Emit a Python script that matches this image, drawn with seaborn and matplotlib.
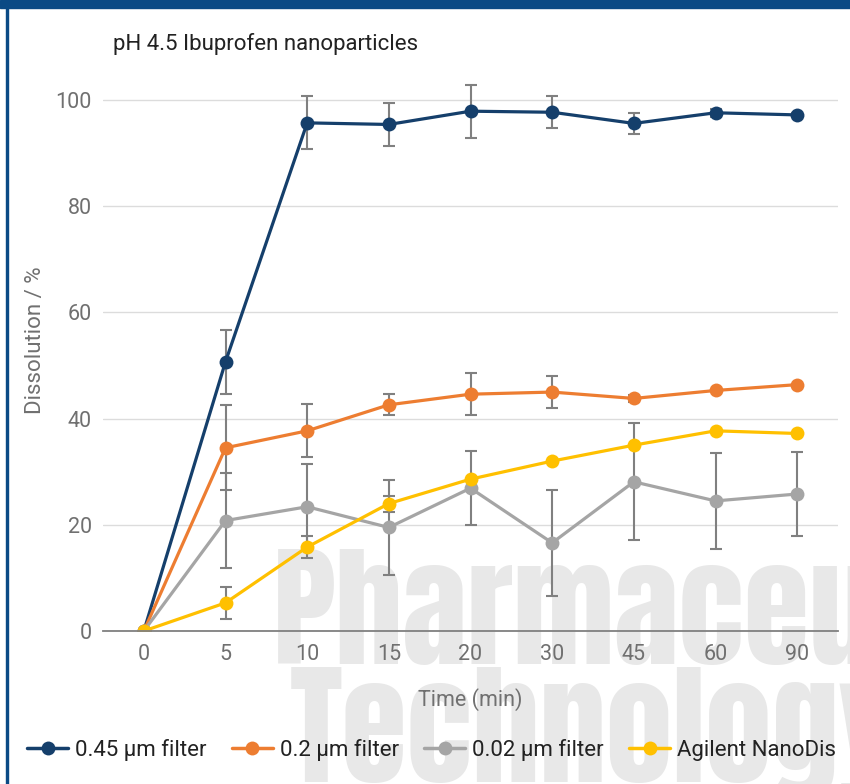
import numpy as np
import pandas as pd
import matplotlib
matplotlib.use("Agg")
import matplotlib.pyplot as plt
import seaborn as sns
from matplotlib.lines import Line2D
from matplotlib.patches import Rectangle

# data
time_labels = ["0", "5", "10", "15", "20", "30", "45", "60", "90"]
series_names = ["0.45 µm filter", "0.2 µm filter", "0.02 µm filter", "Agilent NanoDis"]

filter_045 = [0, 50.7, 95.7, 95.4, 97.9, 97.7, 95.6, 97.6, 97.2]
filter_045_err = [0, 6.0, 5.0, 4.0, 5.0, 3.0, 2.0, 0.8, 0.3]

filter_02 = [0, 34.5, 37.7, 42.6, 44.6, 45.0, 43.8, 45.3, 46.4]
filter_02_err = [0, 8.0, 5.0, 2.0, 4.0, 3.0, 0.6, 0, 0]

filter_002 = [0, 20.8, 23.4, 19.5, 26.9, 16.6, 28.1, 24.5, 25.8]
filter_002_err = [0, 9.0, 8.0, 9.0, 7.0, 10.0, 11.0, 9.0, 8.0]

nanodis = [0, 5.3, 15.8, 24.0, 28.6, 32.0, 35.0, 37.7, 37.2]
nanodis_err = [0, 3.0, 2.0, 1.5, 0, 0, 0, 0, 0]

colors = ["#153f6b", "#ed7d31", "#a5a5a5", "#ffc000"]

values = [filter_045, filter_02, filter_002, nanodis]
errors = [filter_045_err, filter_02_err, filter_002_err, nanodis_err]

rows = []
for name, vals in zip(series_names, values):
    for i, v in enumerate(vals):
        rows.append({"pos": i, "Series": name, "Dissolution": v})
df = pd.DataFrame(rows)

sns.set_style("white")
plt.rcParams["font.family"] = ["Roboto", "DejaVu Sans"]

fig = plt.figure(figsize=(8.5, 7.84), dpi=100)
W, H = 850, 784
ax = fig.add_axes([103 / W, 1 - 631 / H, (838 - 103) / W, (631 - 78.8) / H])
ax.patch.set_alpha(0)

# watermark
wm_font = ["Anton", "Oswald", "Barlow Condensed", "DejaVu Sans"]
fig.text(273 / W, 1 - 664 / H, "Pharmaceutical", fontsize=96,
         family=wm_font, color="#e8e8e8", zorder=-5, ha="left", va="baseline")
fig.text(290 / W, 1 - 782 / H, "Technology", fontsize=96,
         family=wm_font, color="#e8e8e8", zorder=-5, ha="left", va="baseline")

# frame
fig.patches.append(Rectangle((0, 1 - 7.5 / H), 1, 7.5 / H, transform=fig.transFigure,
                             color="#0b4a85", zorder=10))
fig.patches.append(Rectangle((6 / W, 0), 2.2 / W, 1, transform=fig.transFigure,
                             color="#0b4a85", zorder=10))

for name, vals, err, c in zip(series_names, values, errors, colors):
    ax.errorbar(range(len(vals)), vals, yerr=err, fmt="none", ecolor="#808080",
                elinewidth=1.5, capsize=4.5, capthick=1.5, zorder=2)

sns.lineplot(data=df, x="pos", y="Dissolution", hue="Series", palette=colors,
             marker="o", markersize=10, markeredgewidth=0, linewidth=2.3,
             ax=ax, legend=False, zorder=3)

ax.set_xlim(-0.5, 8.5)
ax.set_ylim(0, 104)
ax.set_xticks(range(len(time_labels)))
ax.set_xticklabels(time_labels)
ax.set_yticks([0, 20, 40, 60, 80, 100])
ax.tick_params(axis="both", length=0, labelsize=15.5, labelcolor="#707070")
ax.tick_params(axis="y", pad=8)
ax.tick_params(axis="x", pad=9)
ax.grid(axis="y", color="#dcdcdc", linewidth=1)
ax.grid(axis="x", visible=False)
for s in ["top", "right", "left"]:
    ax.spines[s].set_visible(False)
ax.spines["bottom"].set_color("#808080")
ax.spines["bottom"].set_linewidth(1.3)
ax.spines["bottom"].set_zorder(4)

ax.set_xlabel("")
ax.set_ylabel("")
fig.text(470 / W, 1 - 700 / H, "Time (min)", fontsize=15.5, color="#707070",
         ha="center", va="center")
fig.text(36 / W, 1 - 340 / H, "Dissolution / %", fontsize=16, color="#707070",
         rotation=90, ha="center", va="center")
fig.text(113 / W, 1 - 44 / H, "pH 4.5 Ibuprofen nanoparticles", fontsize=16,
         color="#222222", ha="left", va="center")

handles = [Line2D([0], [0], color=c, linewidth=2.5, marker="o", markersize=10,
                  markeredgewidth=0) for c in colors]
fig.legend(handles, series_names, loc="center left", bbox_to_anchor=(27 / W, 1 - 750 / H),
           ncol=4, frameon=False, fontsize=16, handlelength=1.85, handletextpad=0.3,
           columnspacing=1.15, borderaxespad=0, borderpad=0)
for t in fig.legends[0].get_texts():
    t.set_color("#222222")

fig.savefig("out.png", dpi=100)
